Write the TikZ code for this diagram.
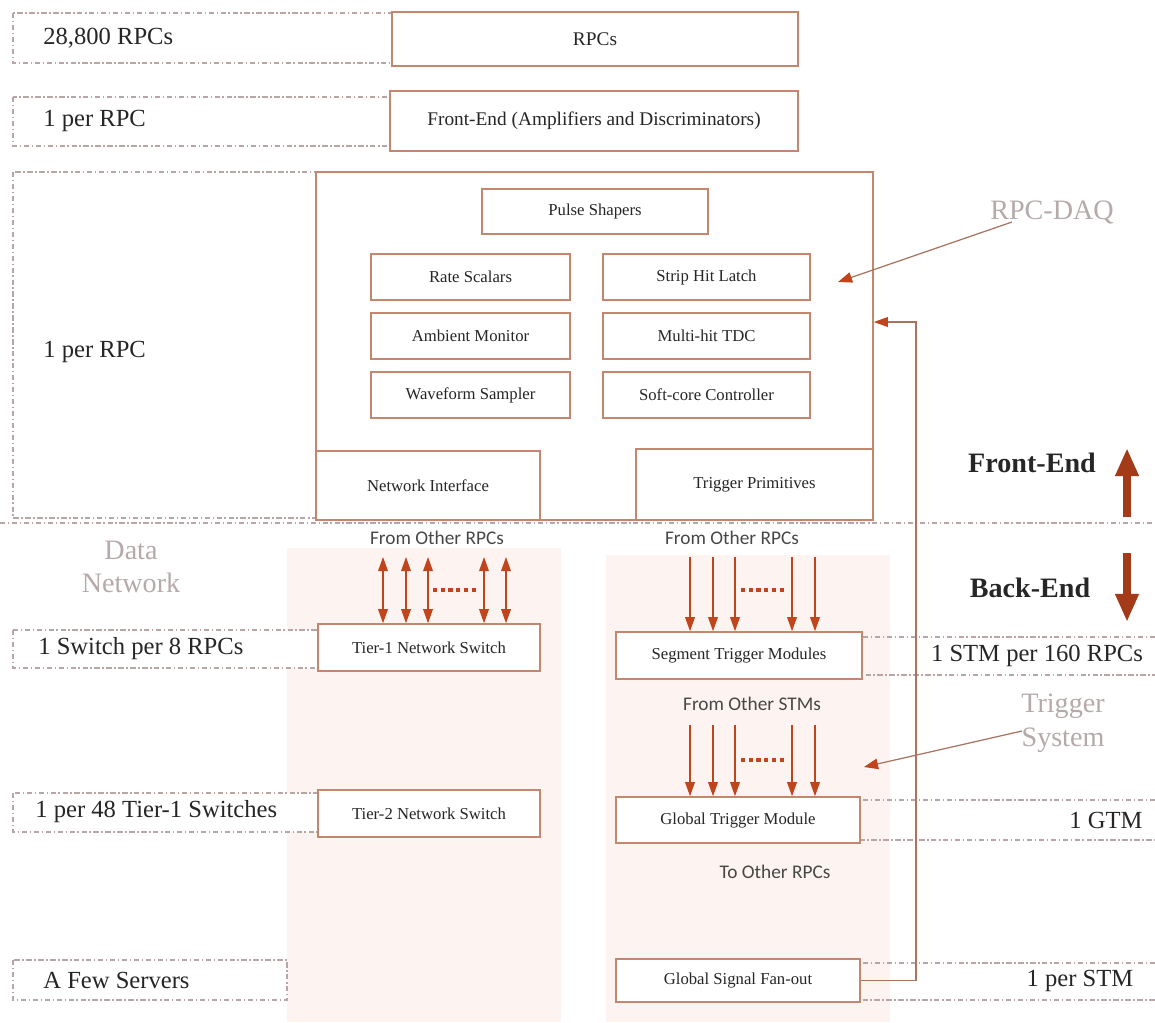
\documentclass[tikz,border=0pt]{standalone}
\usepackage{fontspec}
\setmainfont{Liberation Serif}
\newfontfamily\calibri{Carlito}
\usetikzlibrary{arrows.meta,calc}
\definecolor{boxc}{HTML}{C4866C}
\definecolor{arrc}{HTML}{C0441C}
\definecolor{dashc}{HTML}{B8A6A6}
\definecolor{shadec}{HTML}{FDF3F0}
\definecolor{graylab}{HTML}{B5A9A9}
\definecolor{txt}{HTML}{262626}
\definecolor{linec}{HTML}{A8735F}
\begin{document}
\begin{tikzpicture}[x=0.02cm,y=-0.02cm,
 blk/.style={draw=boxc, line width=0.9pt, fill=white, inner sep=0pt, text=txt, font=\fontsize{9.5}{11}\selectfont},
 bigblk/.style={blk, font=\fontsize{11}{13}\selectfont},
 cnt/.style={draw=dashc, line width=0.6pt, dash pattern=on 3pt off 1.5pt on 0.8pt off 1.5pt, fill=white},
 sep/.style={draw=dashc, line width=0.6pt, dash pattern=on 3pt off 1.5pt on 0.8pt off 1.5pt},
 lab/.style={anchor=west, text=txt, font=\fontsize{14}{16}\selectfont, inner sep=0pt},
 rlab/.style={text=txt, font=\fontsize{14}{16}\selectfont, inner sep=0pt},
 glab/.style={text=graylab, font=\fontsize{16}{18}\selectfont, inner sep=0pt},
 blab/.style={text=txt, font=\bfseries\fontsize{16}{18}\selectfont, inner sep=0pt},
 ftext/.style={text=black!72, font=\calibri\fontsize{11}{13}\selectfont, inner sep=0pt},
 sarr/.style={draw=arrc, line width=0.8pt, -{Triangle[length=8pt,width=5.5pt]}},
 darr/.style={draw=arrc, line width=0.8pt, {Triangle[length=8pt,width=5.5pt]}-{Triangle[length=8pt,width=5.5pt]}},
 callout/.style={draw=linec, line width=0.7pt, -{Triangle[length=8pt,width=6pt,color=arrc]}},
 fbline/.style={draw=linec, line width=0.8pt, -{Triangle[length=8pt,width=5.5pt,color=arrc]}},
 dotsl/.style={draw=arrc, line width=2pt, dash pattern=on 2.4pt off 2pt},
 fat/.style={draw=arrc!85!black, line width=4.5pt, -{Triangle[length=16pt,width=12.5pt]}}
]
\useasboundingbox (0,0) rectangle (1155,1022);
% shaded regions
\fill[shadec] (287,548) rectangle (561,1022);
\fill[shadec] (606,555) rectangle (890,1022);
% dashed count boxes
\draw[cnt] (13,13) rectangle (392,63);
\draw[cnt] (13,97) rectangle (390,146);
\draw[cnt] (13,172) rectangle (316,518);
\draw[cnt] (13,630) rectangle (318,668);
\draw[cnt] (13,793) rectangle (318,832);
\draw[cnt] (13,960) rectangle (287,1000);
\draw[sep] (1155,637) -- (862,637) -- (862,675) -- (1155,675);
\draw[sep] (1155,800) -- (860,800) -- (860,840) -- (1155,840);
\draw[sep] (1155,963) -- (860,963) -- (860,1000) -- (1155,1000);
\draw[sep] (0,523) -- (1155,523);
% blocks
\node[bigblk, minimum width=8.12cm, minimum height=1.08cm] (rpcs) at (595,39) {RPCs};
\node[bigblk, minimum width=8.16cm, minimum height=1.2cm] (fe) at (594,121) {Front-End (Amplifiers and Discriminators)};
\node[blk, minimum width=11.14cm, minimum height=6.96cm] (daq) at (594.5,346) {};
\node[blk, minimum width=4.52cm, minimum height=0.9cm] (pulse) at (595,211.5) {Pulse Shapers};
\node[blk, minimum width=3.98cm, minimum height=0.92cm] (rate) at (470.5,277) {Rate Scalars};
\node[blk, minimum width=4.14cm, minimum height=0.92cm] (strip) at (706.5,277) {Strip Hit Latch};
\node[blk, minimum width=3.98cm, minimum height=0.92cm] (amb) at (470.5,336) {Ambient Monitor};
\node[blk, minimum width=4.14cm, minimum height=0.92cm] (tdc) at (706.5,336) {Multi-hit TDC};
\node[blk, minimum width=3.98cm, minimum height=0.92cm] (wave) at (470.5,395) {Waveform Sampler};
\node[blk, minimum width=4.14cm, minimum height=0.92cm] (soft) at (706.5,395) {Soft-core Controller};
\node[blk, minimum width=4.48cm, minimum height=1.38cm] (netif) at (428,485.5) {Network Interface};
\node[blk, minimum width=4.74cm, minimum height=1.42cm] (trigp) at (754.5,484.5) {Trigger Primitives};
\node[blk, minimum width=4.44cm, minimum height=0.94cm] (t1) at (429,647.5) {Tier-1 Network Switch};
\node[blk, minimum width=4.44cm, minimum height=0.94cm] (t2) at (429,813.5) {Tier-2 Network Switch};
\node[blk, minimum width=4.92cm, minimum height=0.94cm] (stm) at (739,655.5) {Segment Trigger Modules};
\node[blk, minimum width=4.88cm, minimum height=0.92cm] (gtm) at (738,820) {Global Trigger Module};
\node[blk, minimum width=4.88cm, minimum height=0.86cm] (gsf) at (738,980.5) {Global Signal Fan-out};
% count labels
\node[lab] (n1) at (43,38) {28,800 RPCs};
\node[lab] (n2) at (43,121) {1 per RPC};
\node[lab] (n3) at (43,352) {1 per RPC};
\node[lab] (n4) at (38,649) {1 Switch per 8 RPCs};
\node[lab] (n5) at (35,812) {1 per 48 Tier-1 Switches};
\node[lab] (n6) at (43,980) {A Few Servers};
\node[rlab] (n7) at (1037,656) {1 STM per 160 RPCs};
\node[rlab] (n8) at (1106,820) {1 GTM};
\node[rlab] (n9) at (1080,981) {1 per STM};
% side labels
\node[glab] (ldaq) at (1052,212) {RPC-DAQ};
\node[glab, align=center, font=\fontsize{16}{19}\selectfont] (ldata) at (131,567) {Data\\Network};
\node[glab, align=center, font=\fontsize{16}{19.5}\selectfont] (ltrig) at (1063,723) {Trigger\\System};
\node[blab] (lfe) at (1032,463) {Front-End};
\node[blab] (lbe) at (1030,588) {Back-End};
\coordinate (feu0) at (1127,517);
\coordinate (feu1) at (1127,448);
\coordinate (bed0) at (1127,553);
\coordinate (bed1) at (1127,622);
\draw[fat] (feu0) -- (feu1);
\draw[fat] (bed0) -- (bed1);
% small texts
\node[ftext] (fo1) at (437,538) {From Other RPCs};
\node[ftext] (fo2) at (732,538) {From Other RPCs};
\node[ftext] (fo3) at (752,704) {From Other STMs};
\node[ftext] (to1) at (775,872) {To Other RPCs};
% network arrows
\foreach \x in {383,406,428,484,506}{
  \coordinate (na\x) at (\x,557);
  \draw[darr] (na\x) -- (na\x |- t1.north);
}
\draw[dotsl] (433,590) -- (479,590);
% trigger arrows
\foreach \x in {690,713,735,792,815}{
  \coordinate (sa\x) at (\x,557);
  \draw[sarr] (sa\x) -- (sa\x |- stm.north);
  \coordinate (ga\x) at (\x,725);
  \draw[sarr] (ga\x) -- (ga\x |- gtm.north);
}
\draw[dotsl] (741,590) -- (787,590);
\draw[dotsl] (741,760) -- (787,760);
% callouts
\coordinate (cd0) at (1012,222);
\coordinate (cd1) at (838,282);
\draw[callout] (cd0) -- (cd1);
\coordinate (ct0) at (1022,731);
\coordinate (ct1) at (864,767);
\draw[callout] (ct0) -- (ct1);
% feedback
\coordinate (fb) at (916,322);
\draw[fbline] (gsf.east) -| (fb) -- (fb -| daq.east);
\end{tikzpicture}
\end{document}
